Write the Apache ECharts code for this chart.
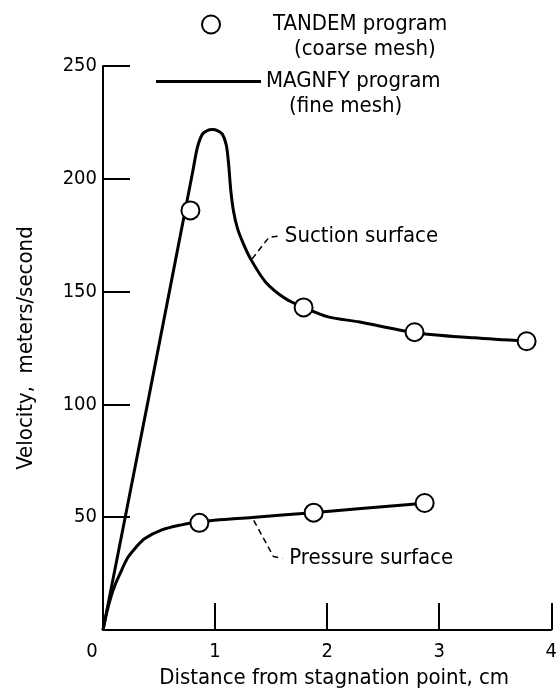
<!DOCTYPE html>
<html>
<head>
<meta charset="utf-8">
<script src="https://cdn.jsdelivr.net/npm/echarts@6/dist/echarts.min.js"></script>
<style>
  html, body { margin: 0; padding: 0; background: #fff; }
  #chart { width: 560px; height: 694px; }
</style>
</head>
<body>
<div id="chart"></div>
<script>
const FONT = "'DejaVu Sans Condensed', 'Liberation Sans Narrow', 'DejaVu Sans', sans-serif";

const xTicks = [0, 1, 2, 3, 4];
const yTicks = [0, 50, 100, 150, 200, 250];

// MAGNFY program (fine mesh) - suction surface
const suctionX = [0, 0.4, 0.8, 0.843, 0.887, 0.93, 0.976, 1.02, 1.065, 1.1, 1.12, 1.14, 1.165, 1.2, 1.25, 1.317, 1.45, 1.627, 1.79, 2.01, 2.28, 2.78, 3.31, 3.78];
const suctionV = [0, 101, 203, 214, 219.8, 221.4, 221.8, 221.4, 219.8, 215, 207, 195, 185.5, 178, 171.5, 164.5, 154.3, 146.9, 143, 138.8, 136.6, 131.8, 129.5, 128];

// MAGNFY program (fine mesh) - pressure surface
const pressureX = [0, 0.035, 0.07, 0.104, 0.148, 0.22, 0.3, 0.37, 0.52, 0.7, 0.86, 1.33, 1.87, 2.87];
const pressureV = [0, 8, 14.5, 19.5, 24.5, 32, 37, 40.5, 44.3, 46.6, 48, 49.9, 52, 56.2];

// TANDEM program (coarse mesh) points
const tandemX = [0.78, 1.79, 2.78, 3.78, 0.86, 1.88, 2.87];
const tandemV = [186, 143, 132, 128, 47.5, 52, 56.3];

// leader lines for the surface labels (data coords)
const suctionLeaderX = [1.33, 1.48, 1.56];
const suctionLeaderV = [164.5, 174, 174.6];
const pressureLeaderX = [1.345, 1.52, 1.6];
const pressureLeaderV = [48.6, 32.6, 31.8];

const zip = (xs, ys) => xs.map((x, i) => [x, ys[i]]);

const chart = echarts.init(document.getElementById('chart'));

const baseText = { fontFamily: FONT, fontSize: 22, color: '#000' };
const tickText = { fontFamily: FONT, fontSize: 20, color: '#000' };

const legendText = (indent) => ({
  ...baseText,
  lineHeight: 25,
  padding: [25, 0, 0, 0],
  rich: {
    a: { ...baseText, lineHeight: 25 },
    b: { ...baseText, lineHeight: 25, padding: [0, 0, 0, indent] }
  }
});

const leaderSeries = (name, xs, ys, text) => ({
  name: name,
  type: 'line',
  data: zip(xs, ys),
  symbol: 'none',
  lineStyle: { color: '#000', width: 1.5, type: [6, 4] },
  endLabel: { show: true, formatter: text, distance: 7, ...baseText },
  z: 1
});

const option = {
  backgroundColor: '#fff',
  animation: false,
  grid: { left: 103, right: 6, top: 66, bottom: 61 },
  legend: [
    {
      data: ['TANDEM program'],
      left: 196,
      top: -18,
      icon: 'circle',
      itemWidth: 114,
      itemHeight: 18,
      selectedMode: false,
      formatter: () => '{a|TANDEM program}\n{b|(coarse mesh)}',
      textStyle: legendText(21)
    },
    {
      data: ['MAGNFY program'],
      left: 151,
      top: 39,
      icon: 'path://M0 0H105V3H0Z',
      itemWidth: 105,
      itemHeight: 3,
      selectedMode: false,
      formatter: () => '{a|MAGNFY program}\n{b|(fine mesh)}',
      textStyle: legendText(23)
    }
  ],
  xAxis: {
    type: 'value',
    min: xTicks[0],
    max: xTicks[xTicks.length - 1],
    interval: 1,
    name: 'Distance from stagnation point, cm',
    nameLocation: 'middle',
    nameGap: 37,
    nameTextStyle: { ...baseText, padding: [0, 0, 0, 14] },
    axisLine: { lineStyle: { color: '#000', width: 2 } },
    axisTick: { inside: true, length: 27, lineStyle: { color: '#000', width: 2 } },
    axisLabel: {
      ...tickText,
      margin: 12,
      formatter: v => v === 0 ? '{z|0}' : String(v),
      rich: { z: { ...tickText, padding: [0, 22, 0, 0] } }
    },
    splitLine: { show: false }
  },
  yAxis: {
    type: 'value',
    min: yTicks[0],
    max: yTicks[yTicks.length - 1],
    interval: 50,
    name: 'Velocity,  meters/second',
    nameLocation: 'middle',
    nameGap: 66,
    nameTextStyle: baseText,
    axisLine: { show: true, lineStyle: { color: '#000', width: 2 } },
    axisTick: { show: true, inside: true, length: 27, lineStyle: { color: '#000', width: 2 } },
    axisLabel: { ...tickText, margin: 6, formatter: v => v === 0 ? '' : String(v) },
    splitLine: { show: false }
  },
  series: [
    {
      name: 'MAGNFY program',
      type: 'line',
      data: zip(suctionX, suctionV),
      symbol: 'none',
      smooth: 0.3,
      lineStyle: { color: '#000', width: 3 },
      itemStyle: { color: '#000' },
      z: 2
    },
    {
      name: 'MAGNFY program',
      type: 'line',
      data: zip(pressureX, pressureV),
      symbol: 'none',
      smooth: 0.3,
      lineStyle: { color: '#000', width: 3 },
      itemStyle: { color: '#000' },
      z: 2
    },
    {
      name: 'TANDEM program',
      type: 'scatter',
      data: zip(tandemX, tandemV),
      symbol: 'circle',
      symbolSize: 18,
      itemStyle: { color: '#fff', borderColor: '#000', borderWidth: 2, opacity: 1 },
      z: 5
    },
    leaderSeries('suction leader', suctionLeaderX, suctionLeaderV, 'Suction surface'),
    leaderSeries('pressure leader', pressureLeaderX, pressureLeaderV, 'Pressure surface')
  ]
};

chart.setOption(option);
</script>
</body>
</html>
